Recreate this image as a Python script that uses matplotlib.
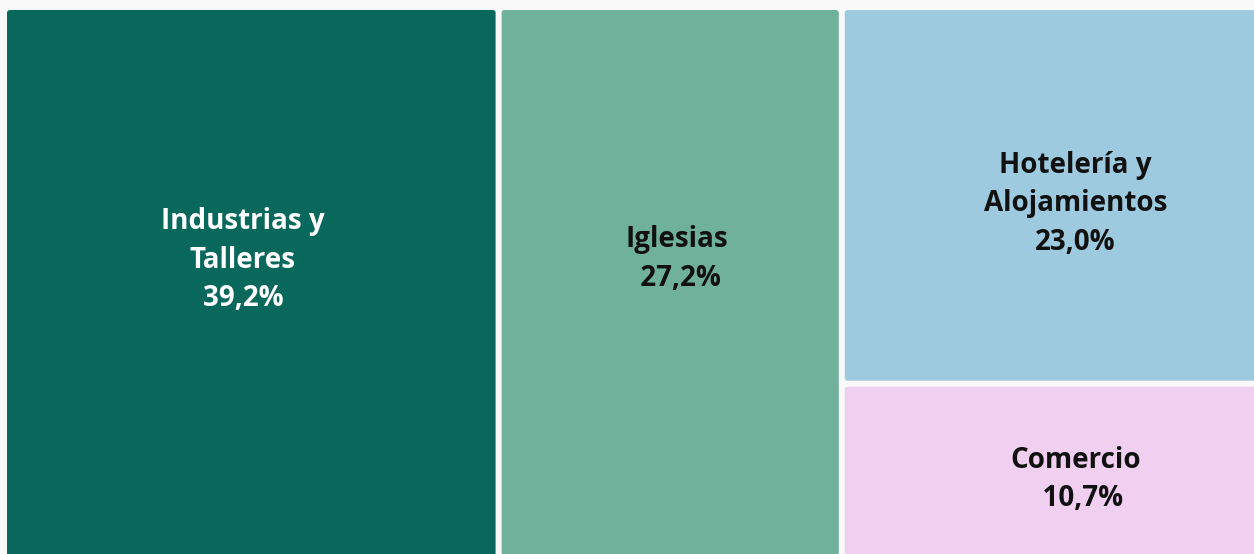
import matplotlib
matplotlib.use("Agg")
from matplotlib import pyplot as plt
from matplotlib.patches import FancyBboxPatch

categories = ["Industrias y\nTalleres", "Iglesias", "Hotelería y\nAlojamientos", "Comercio"]
shares = [39.2, 27.2, 23.0, 10.7]
pct_labels = ["39,2%", " 27,2%", "23,0%", "  10,7%"]
colors = ["#08685c", "#70b19c", "#9dcade", "#f0cff0"]
text_colors = ["white", "#111111", "#111111", "#111111"]

W, H = 1254, 554
fig = plt.figure(figsize=(W / 100, H / 100), dpi=100)
fig.patch.set_facecolor("#f9f9f9")
ax = fig.add_axes([0, 0, 1, 1])
ax.set_xlim(0, W)
ax.set_ylim(H, 0)
ax.axis("off")

# treemap area (pixels, top-down); it runs past the right and bottom edge
x0, y0, x1, y1 = 7, 10, 1270, 562
gap = 6
total = sum(shares)


def layout():
    """two full-height columns, then the last two stacked"""
    rects = []
    x = x0
    span = x1 - x0
    for v in shares[:2]:
        w = span * v / total
        rects.append((x, y0, w - gap, y1 - y0 - gap))
        x += w
    rest = shares[2:]
    w = x1 - x
    y = y0
    for v in rest:
        h = (y1 - y0) * v / sum(rest)
        rects.append((x, y, w - gap, h - gap))
        y += h
    return rects


# label centre as a fraction of each box
label_pos = [(0.483, 0.458), (0.52, 0.456), (0.55, 0.523), (0.55, 0.55)]

for (x, y, w, h), col, name, pct, tc, (fx, fy) in zip(
        layout(), colors, categories, pct_labels, text_colors, label_pos):
    ax.add_patch(FancyBboxPatch((x, y), w, h,
                                boxstyle="round,pad=0,rounding_size=3",
                                fc=col, ec="none"))
    ax.text(x + w * fx, y + h * fy, name + "\n" + pct,
            ha="center", va="center", color=tc, fontsize=20,
            fontweight="bold", family="Open Sans", linespacing=1.42)

fig.savefig("out.png", dpi=100, facecolor=fig.get_facecolor())
